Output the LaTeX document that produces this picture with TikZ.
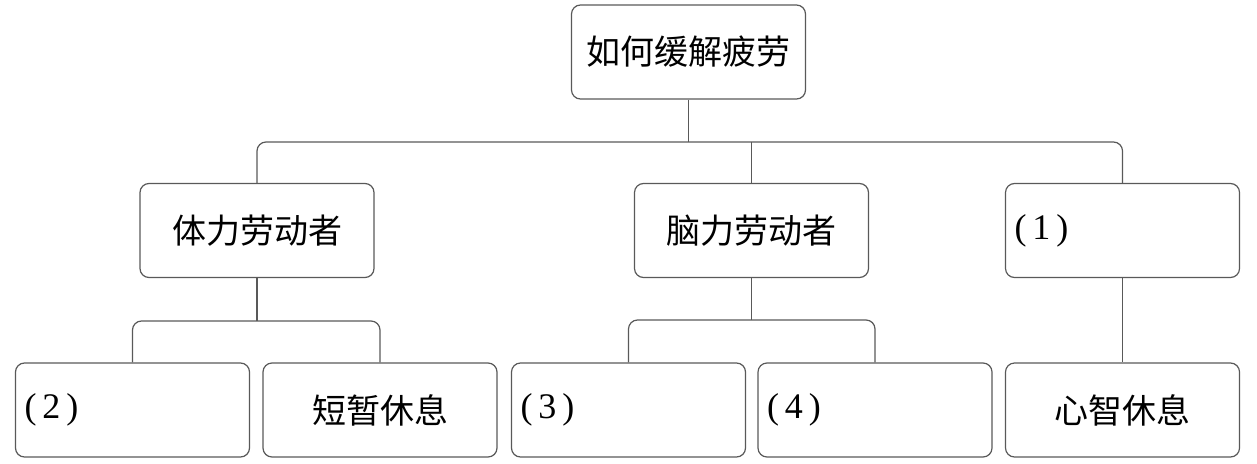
\documentclass[tikz,border=0pt]{standalone}
\usepackage{fontspec}
\setmainfont{Liberation Serif}
\newfontfamily\cjk{Noto Sans CJK SC}
\newcommand{\numlab}[1]{(\kern6pt#1\kern6pt)}
\begin{document}
\begin{tikzpicture}[x=1pt,y=-1pt,
  box/.style={draw=black!65, line width=1.2pt, rounded corners=9pt,
    minimum width=234pt, minimum height=94pt, inner sep=0pt,
    font=\cjk\fontsize{34}{40}\selectfont},
  lbox/.style={box, text width=216pt, align=left,
    font=\fontsize{36}{42}\selectfont},
  conn/.style={draw=black!65, line width=1.2pt, rounded corners=9pt}]
\useasboundingbox (0,0) rectangle (1257,463);
% top
\node[box] (top) at (688.5,52) {如何缓解疲劳};
% middle row
\node[box] (L1) at (257,230.5) {体力劳动者};
\node[box] (M1) at (751.5,230.5) {脑力劳动者};
\node[lbox] (R1) at (1122.5,230.5) {\numlab{1}};
% bottom row
\node[lbox] (B1) at (132.5,410) {\numlab{2}};
\node[box] (B2) at (380,410) {短暂休息};
\node[lbox] (B3) at (628.5,410) {\numlab{3}};
\node[lbox] (B4) at (875,410) {\numlab{4}};
\node[box] (B5) at (1122.5,410) {心智休息};
% junctions
\coordinate (j1) at (688.5,142);
\coordinate (j2) at (257,321);
\coordinate (j3) at (751.5,320);
% connectors
\draw[conn] (top.south) -- (j1);
\draw[conn] (L1.north) |- (j1) -| (R1.north);
\draw[conn] (j1 -| M1.north) -- (M1.north);
\draw[conn] (L1.south) -- (j2);
\draw[conn] (B1.north) |- (j2) -| (B2.north);
\draw[conn] (M1.south) -- (j3);
\draw[conn] (B3.north) |- (j3) -| (B4.north);
\draw[conn] (R1.south) -- (B5.north);
\end{tikzpicture}
\end{document}
